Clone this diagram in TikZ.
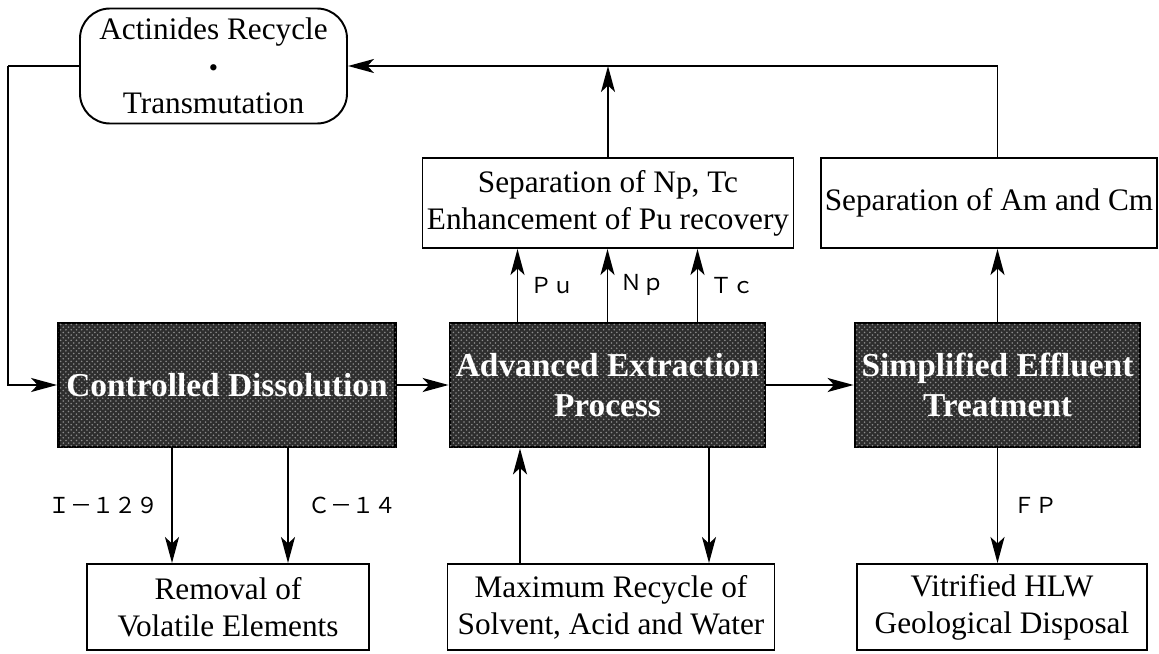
\documentclass[tikz,border=0pt]{standalone}
\usepackage{fontspec}
\setmainfont{Liberation Serif}
\newfontfamily\jpfont{Noto Sans CJK JP}
\usetikzlibrary{arrows.meta,patterns}
\tikzset{
  flow/.style={line width=1.1pt, -{Stealth[length=5.2mm,width=2.8mm,inset=1.3mm]}},
  link/.style={line width=1.1pt},
  whitebox/.style={draw, line width=1.1pt, fill=white, align=center, inner sep=2pt, font=\fontsize{17.8}{21}\selectfont},
  roundbox/.style={whitebox, rounded corners=0.6cm},
  darkbox/.style={draw, line width=1.6pt, fill=black!82, postaction={pattern=crosshatch dots, pattern color=black!45}, text=white, align=center, font=\fontsize{19}{23}\selectfont\bfseries},
  stream/.style={font=\jpfont\fontsize{12.5}{14}\selectfont, inner sep=0pt},
}

\begin{document}
\begin{tikzpicture}
\useasboundingbox (0,0) rectangle (23.18,-13.08);
% process line
\node[darkbox, minimum width=6.74cm, minimum height=2.48cm] (dis) at (4.54,-7.7) {Controlled Dissolution};
\node[darkbox, minimum width=6.1cm, minimum height=2.48cm] (ext) at (12.15,-7.7) {Advanced Extraction\\Process};
\node[darkbox, minimum width=5.7cm, minimum height=2.48cm] (eff) at (19.95,-7.7) {Simplified Effluent\\Treatment};
% upper boxes
\node[roundbox, minimum width=5.34cm, minimum height=2.3cm] (act) at (4.27,-1.32) {Actinides Recycle\\{\fontsize{15}{15}\selectfont\textbullet}\\Transmutation};
\node[whitebox, minimum width=7.42cm, minimum height=1.8cm] (sep) at (12.16,-4.06) {Separation of Np, Tc\\Enhancement of Pu recovery};
\node[whitebox, minimum width=6.68cm, minimum height=1.8cm] (amc) at (19.78,-4.06) {Separation of Am and Cm};
% lower boxes
\node[whitebox, minimum width=5.64cm, minimum height=1.72cm] (rem) at (4.56,-12.14) {Removal of\\Volatile Elements};
\node[whitebox, minimum width=6.54cm, minimum height=1.72cm] (rec) at (12.22,-12.14) {Maximum Recycle of\\Solvent, Acid and Water};
\node[whitebox, minimum width=5.8cm, minimum height=1.72cm] (vit) at (20.04,-12.14) {Vitrified HLW\\Geological Disposal};

% recycle loop
\coordinate (lc) at (0.16,-1.32);
\coordinate (tr) at (eff.north |- act.east);
\draw[link] (act.west) -- (lc);
\draw[flow] (lc) |- (dis.west);
\draw[flow] (tr) -- (act.east);
\draw[flow] (sep.north) -- (sep.north |- tr);
\draw[link] (eff.north |- amc.north) -- (tr);

% main stream
\draw[flow] (dis) -- (ext);
\draw[flow] (ext) -- (eff);
\draw[flow] (eff.north) -- (eff.north |- amc.south);

% Pu, Np, Tc
\coordinate (pu) at ([xshift=-1.8cm]ext.north);
\coordinate (np) at (ext.north);
\coordinate (tc) at ([xshift=1.8cm]ext.north);
\draw[flow] (pu) -- (pu |- sep.south) node[stream, midway, right=0.25cm] {Ｐｕ};
\draw[flow] (np) -- (np |- sep.south) node[stream, midway, right=0.25cm] {Ｎｐ};
\draw[flow] (tc) -- (tc |- sep.south) node[stream, midway, right=0.25cm] {Ｔｃ};

% off-gas and waste
\coordinate (i129) at ([xshift=-1.1cm]dis.south);
\coordinate (c14) at ([xshift=1.22cm]dis.south);
\draw[flow] (i129) -- (i129 |- rem.north) node[stream, midway, left=0.25cm] {Ｉ－１２９};
\draw[flow] (c14) -- (c14 |- rem.north) node[stream, midway, right=0.4cm] {Ｃ－１４};
\coordinate (rin) at ([xshift=-1.75cm]ext.south);
\coordinate (rout) at ([xshift=2.03cm]ext.south);
\draw[flow] (rin |- rec.north) -- (rin);
\draw[flow] (rout) -- (rout |- rec.north);
\draw[flow] (eff.south) -- (eff.south |- vit.north) node[stream, midway, right=0.3cm] {ＦＰ};
\end{tikzpicture}
\end{document}
